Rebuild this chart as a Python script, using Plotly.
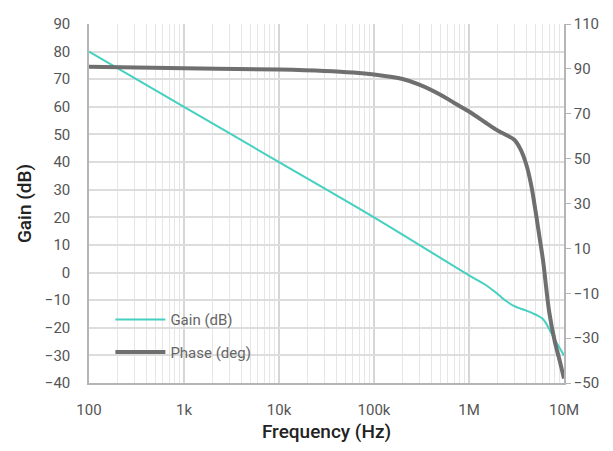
import plotly.graph_objects as go

gain_freq = [100, 1e3, 1e4, 1e5, 1e6, 1.5e6, 2e6, 2.5e6, 3e6, 3.5e6, 4e6, 5e6, 6e6, 7e6, 8e6, 9e6, 1e7]
gain_db = [80, 60, 40, 20, -1, -4.5, -7.8, -10.5, -12.2, -13.1, -13.8, -15.2, -16.8, -20.5, -24.3, -27.3, -30]

phase_freq = [100, 1e3, 1e4, 3e4, 6e4, 1e5, 2e5, 3e5, 5e5, 7e5, 1e6, 1.5e6,
              2e6, 2.5e6, 3e6, 3.5e6, 4e6, 4.5e6, 5e6, 5.5e6, 6e6, 7e6, 8e6, 9e6, 1e7]
phase_deg = [91, 90.3, 89.7, 89.1, 88.4, 87.5, 85.5, 83, 78.5, 74.8, 71, 66,
             62.5, 60.4, 58.4, 54, 47.5, 38.5, 27, 15.5, 5, -18.5, -31.5, -40, -48]

x_ticktext = {"100": "100", "1000": "1k", "10k": "10k", "100k": "100k", "1M": "1M", "10M": "10M"}
y2_tickvals = [110, 90, 70, 50, 30, 10, -10, -30, -50]

gain_color = "#45d0c0"
phase_color = "#6f6f6f"
font_family = "Roboto, 'Noto Sans', sans-serif"

fig = go.Figure()
fig.add_trace(go.Scatter(x=gain_freq, y=gain_db, mode="lines", name="Gain (dB)",
                         line=dict(color=gain_color, width=2, shape="spline", smoothing=1),
                         legendgroup="g1", yaxis="y"))
fig.add_trace(go.Scatter(x=phase_freq, y=phase_deg, mode="lines", name="Phase (deg)",
                         line=dict(color=phase_color, width=4, shape="spline", smoothing=1),
                         legendgroup="g2", yaxis="y2"))

fig.update_layout(
    width=597, height=435,
    margin=dict(l=81, r=41, t=16, b=60),
    paper_bgcolor="white", plot_bgcolor="white",
    font=dict(family=font_family, color="#555555", size=15),
    showlegend=True,
    legend=dict(x=0.045, y=0.222, xanchor="left", yanchor="top", itemwidth=50,
                bgcolor="rgba(0,0,0,0)", traceorder="grouped", tracegroupgap=10,
                font=dict(size=15, color="#666666")),
    xaxis=dict(type="log", range=[2, 7], dtick=1, exponentformat="SI",
               labelalias=x_ticktext,
               showgrid=True, gridcolor="#d6d6d6", gridwidth=1.5,
               minor=dict(dtick="D1", showgrid=True, gridcolor="#e6e6e6", gridwidth=1, ticks=""),
               showline=True, linecolor="#b5b5b5", linewidth=1.5,
               ticks="outside", ticklen=12, tickcolor="rgba(0,0,0,0)",
               tickfont=dict(size=15, color="#555555"),
               title=dict(text="Frequency (Hz)", standoff=16,
                          font=dict(size=19, color="#222222", weight=500)),
               zeroline=False, automargin=False),
    yaxis=dict(range=[-40, 90], dtick=10, showgrid=True, gridcolor="#dddddd", gridwidth=1.5,
               showline=True, linecolor="#b5b5b5", linewidth=1.5,
               ticks="outside", ticklen=14, tickcolor="rgba(0,0,0,0)",
               tickfont=dict(size=15, color="#555555"),
               title=dict(text="Gain (dB)", standoff=8,
                          font=dict(size=19, color="#222222", weight=500)),
               zeroline=False, automargin=False),
    yaxis2=dict(range=[-50, 110], tickvals=y2_tickvals, overlaying="y", side="right",
                showgrid=False, showline=True, linecolor="#b5b5b5", linewidth=1.5,
                ticks="outside", ticklen=5, tickcolor="#b5b5b5",
                tickfont=dict(size=15, color="#555555"), zeroline=False, automargin=False),
)

fig.write_html("out.html")
